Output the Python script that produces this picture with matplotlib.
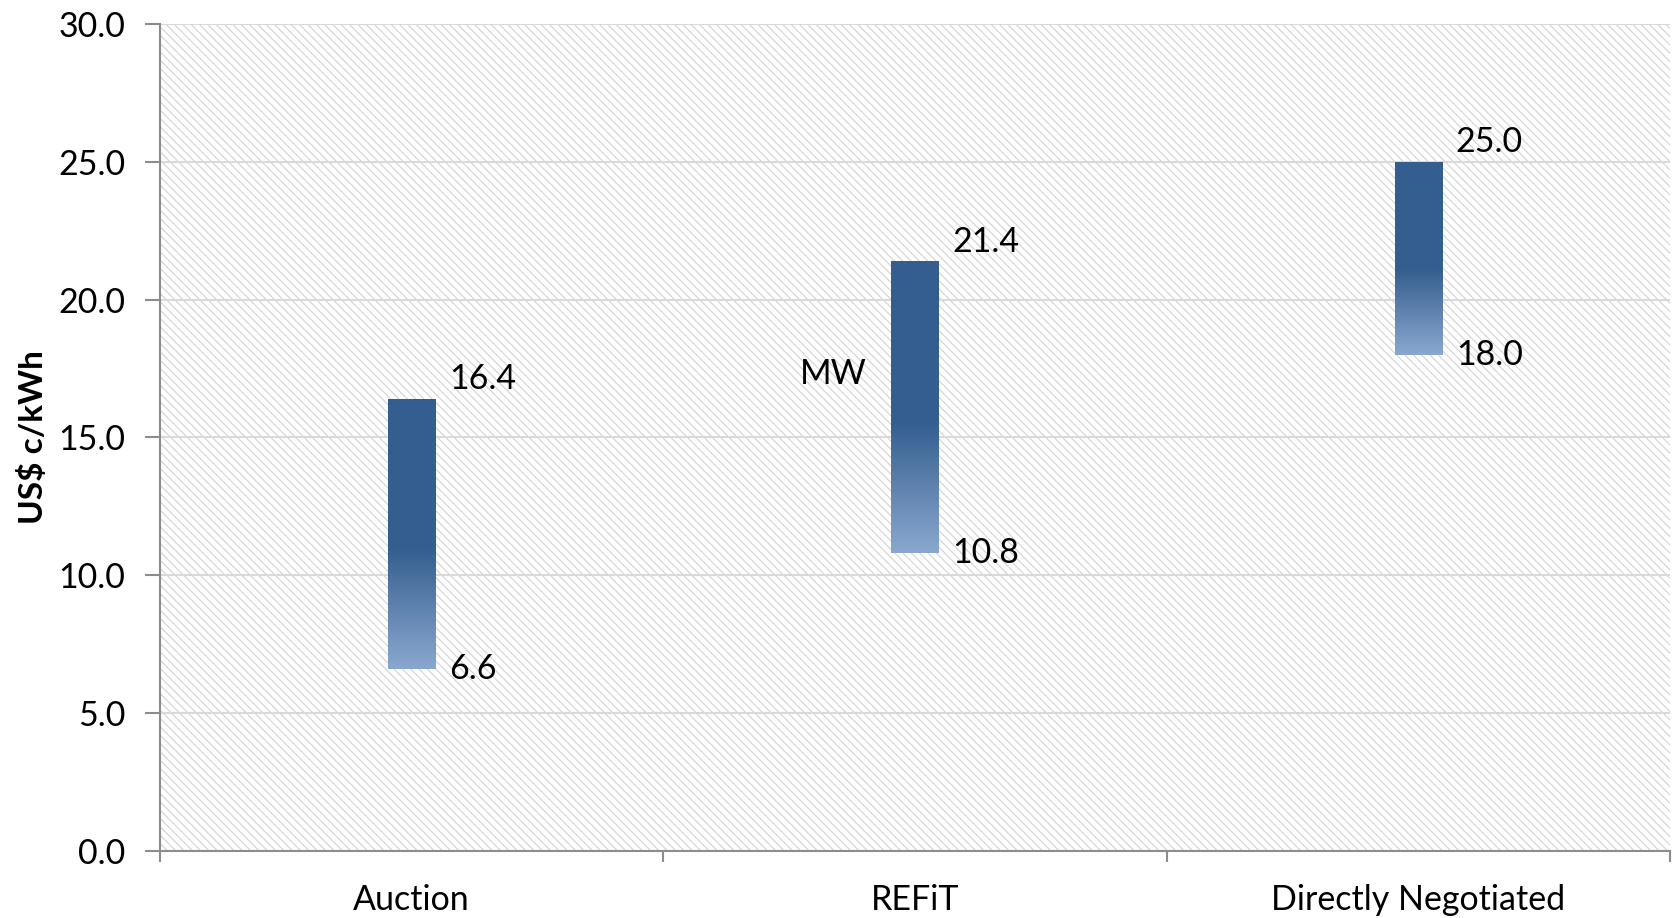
import matplotlib
matplotlib.use("Agg")
import matplotlib.pyplot as plt
import numpy as np
from matplotlib.colors import LinearSegmentedColormap
from matplotlib.patches import Rectangle

categories = ["Auction", "REFiT", "Directly Negotiated"]
low_values = [6.6, 10.8, 18.0]
high_values = [16.4, 21.4, 25.0]
y_ticks = [0.0, 5.0, 10.0, 15.0, 20.0, 25.0, 30.0]
note_text = "MW"

plt.rcParams["font.family"] = ["Lato", "DejaVu Sans"]
plt.rcParams["hatch.linewidth"] = 0.8

FS = 24.5

fig = plt.figure(figsize=(16.75, 9.18), dpi=100)
ax = fig.add_axes([0.0955, 0.073, 0.9015, 0.901])

x = np.arange(len(categories))
ax.set_xlim(-0.5, len(categories) - 0.5)
ax.set_ylim(0, 30)

# hatched plot background
bg = Rectangle((0, 0), 1, 1, transform=ax.transAxes, facecolor="white",
               edgecolor="#d2d2d2", hatch="\\\\\\\\", linewidth=0, zorder=0)
ax.add_patch(bg)
ax.patch.set_visible(False)

ax.set_yticks(y_ticks)
ax.set_yticklabels([f"{v:.1f}" for v in y_ticks])
ax.yaxis.grid(True, color="#d9d9d9", linewidth=1.5, zorder=1)
ax.set_axisbelow(True)

# category labels centred, tick marks at the boundaries
ax.set_xticks(x)
ax.set_xticklabels(categories)
ax.set_xticks(np.arange(-0.5, len(categories), 1.0), minor=True)
ax.tick_params(axis="x", which="major", length=0, pad=24, labelsize=FS)
ax.tick_params(axis="x", which="minor", length=8, width=1.5, color="#8c8c8c")
ax.tick_params(axis="y", length=11, width=1.5, color="#8c8c8c", pad=14,
               labelsize=FS)

for side in ("top", "right"):
    ax.spines[side].set_visible(False)
for side in ("left", "bottom"):
    ax.spines[side].set_color("#8c8c8c")
    ax.spines[side].set_linewidth(1.5)

ax.set_ylabel("US$ c/kWh", fontsize=24, fontweight="bold", labelpad=7)

cmap = LinearSegmentedColormap.from_list(
    "bar_fade", [(0.0, "#8aa8cf"), (0.44, "#355f90"), (1.0, "#345e8f")])
gradient = np.linspace(0, 1, 256).reshape(-1, 1)

bar_width = 0.094
bars = ax.bar(x, np.array(high_values) - np.array(low_values),
              bottom=low_values, width=bar_width, color="none",
              linewidth=0, zorder=3)
for rect, lo, hi in zip(bars, low_values, high_values):
    x0 = rect.get_x()
    im = ax.imshow(gradient, cmap=cmap, origin="lower", aspect="auto",
                   extent=(x0, x0 + rect.get_width(), lo, hi), zorder=3)
    im.set_clip_path(rect)
    ax.annotate(f"{hi:.1f}", (x0 + rect.get_width(), hi),
                xytext=(10, 14), textcoords="offset points",
                ha="left", va="center", fontsize=FS)
    ax.annotate(f"{lo:.1f}", (x0 + rect.get_width(), lo),
                xytext=(10, 0), textcoords="offset points",
                ha="left", va="center", fontsize=FS)

ax.set_xlim(-0.5, len(categories) - 0.5)
ax.set_ylim(0, 30)

ax.text(x[1] - 0.162, 17.3, note_text, ha="center", va="center", fontsize=FS)

fig.savefig("out.png", dpi=100)
